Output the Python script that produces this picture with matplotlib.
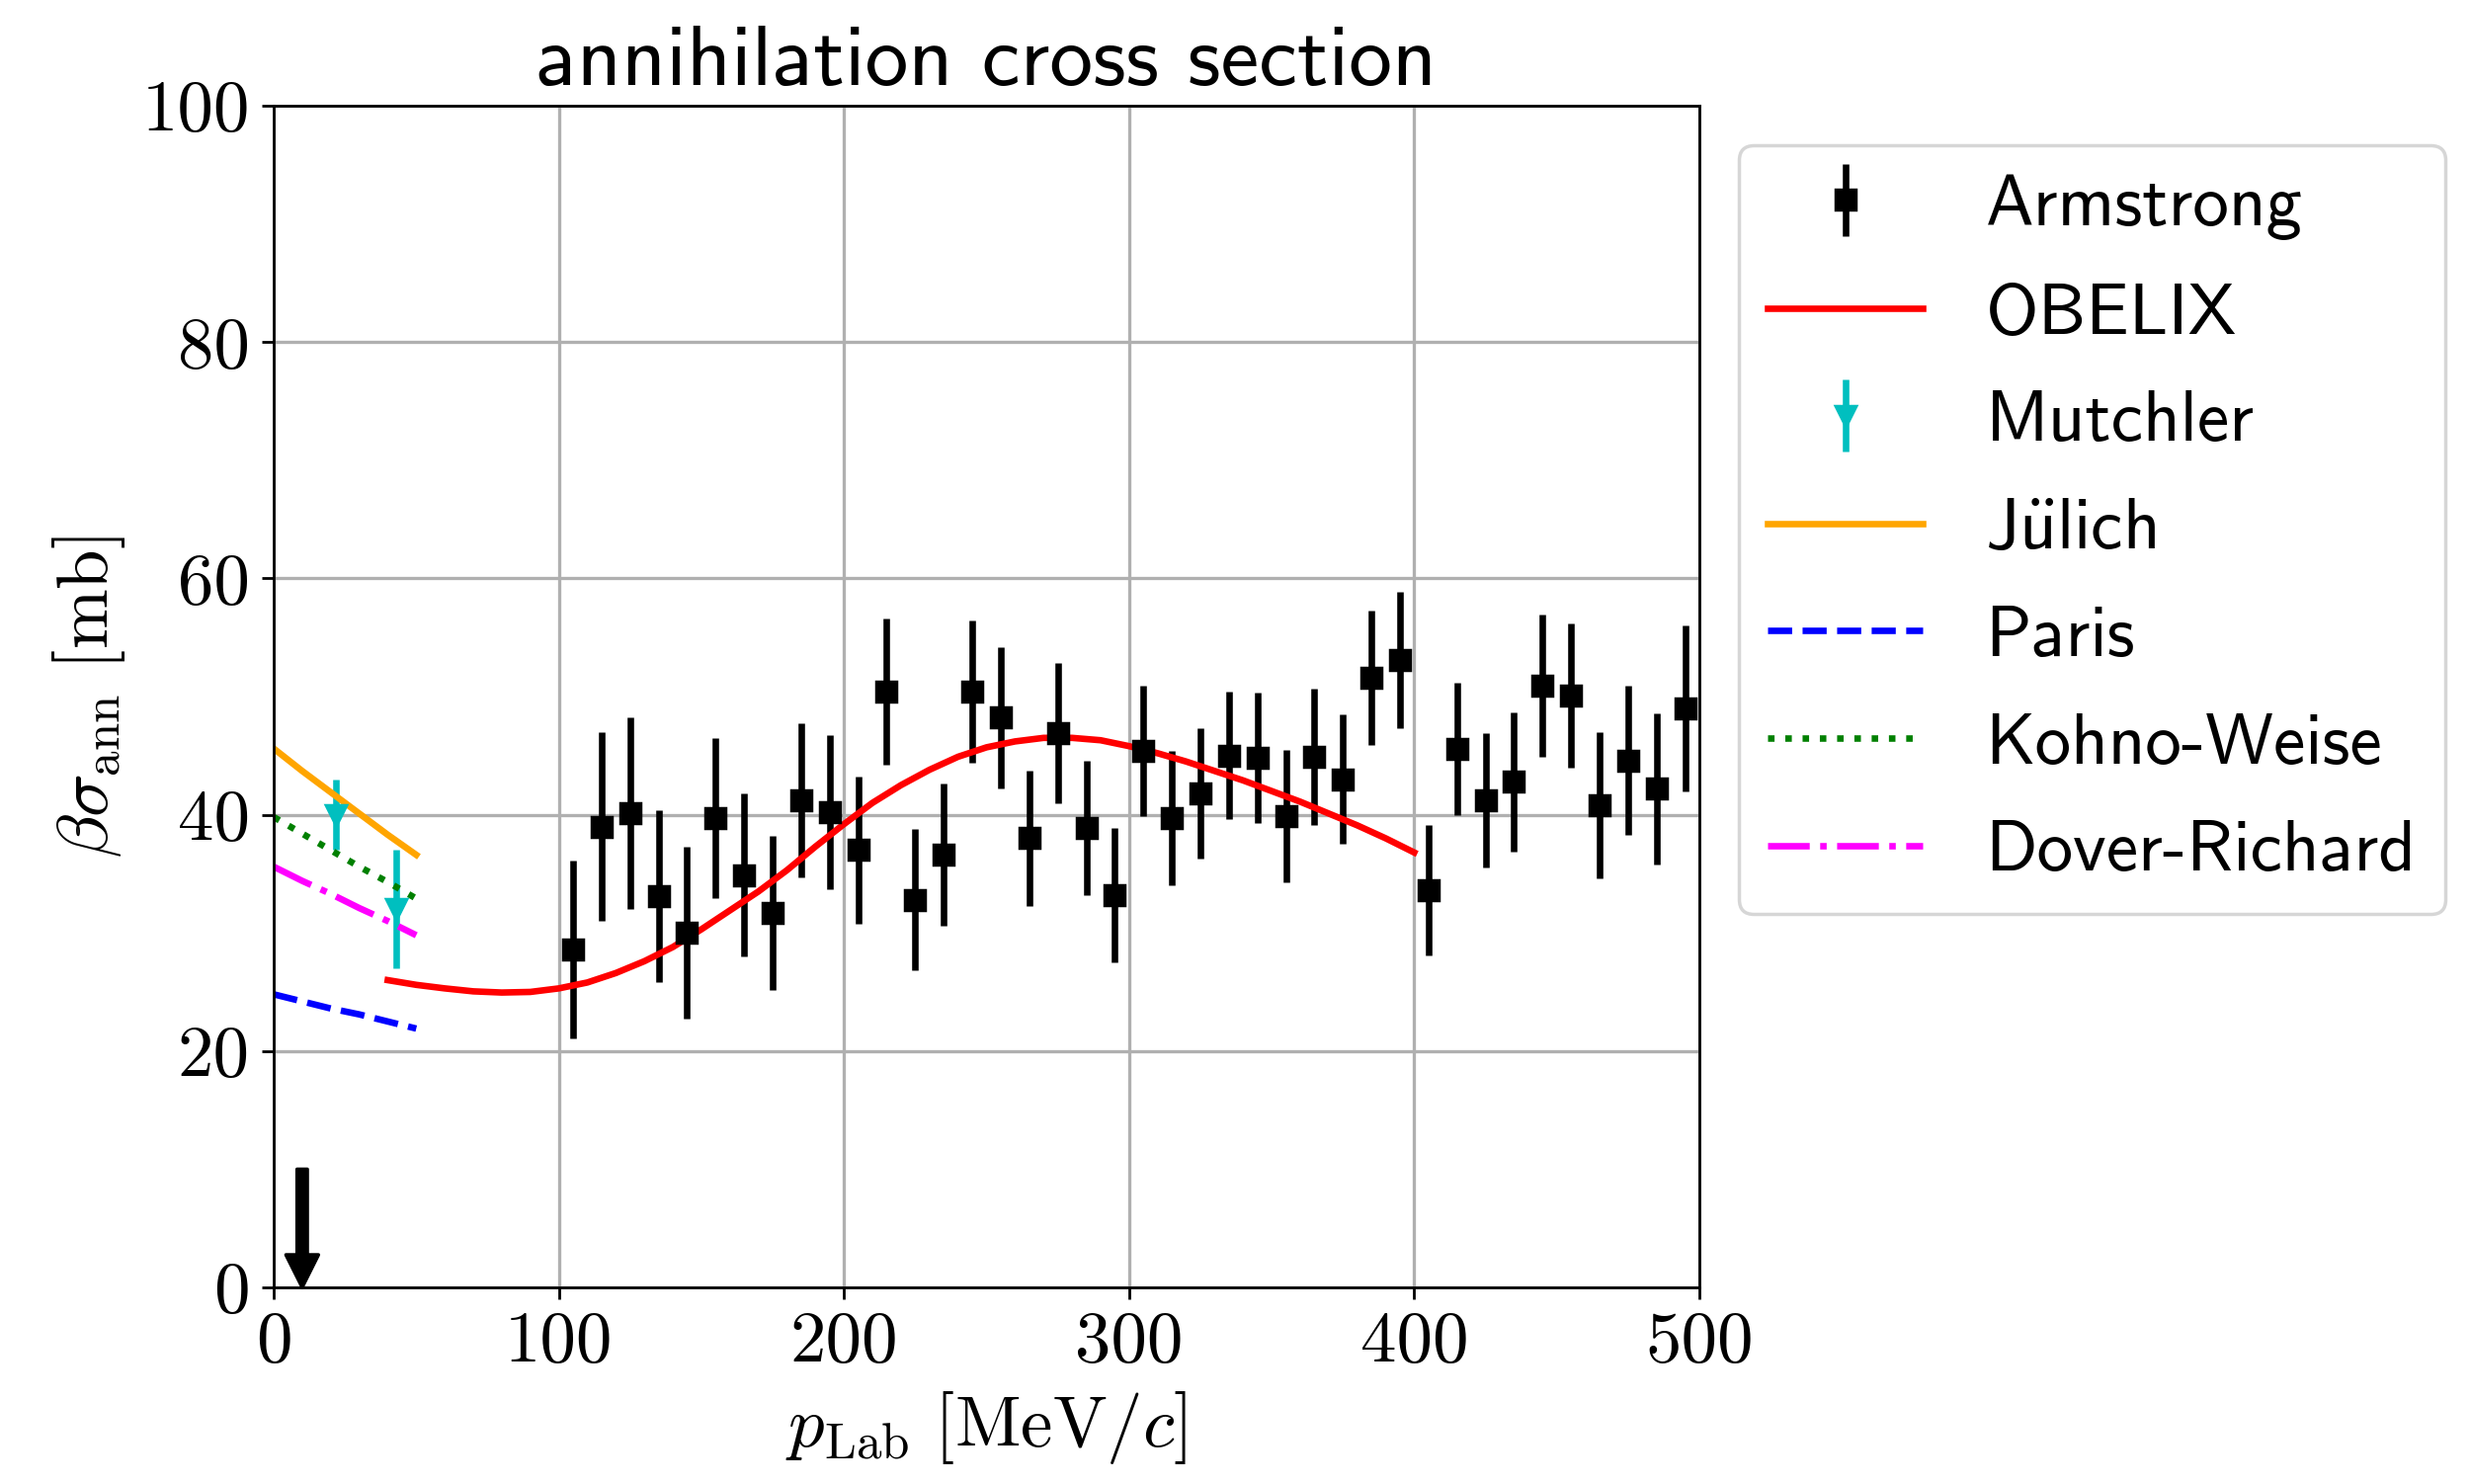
import numpy as np
import matplotlib
matplotlib.use('Agg')
import matplotlib.pyplot as plt

plt.rcParams['font.family'] = ['cmss10', 'DejaVu Sans']
plt.rcParams['mathtext.fontset'] = 'cm'
plt.rcParams['axes.unicode_minus'] = False
plt.rcParams['font.size'] = 21
plt.rcParams['lines.linewidth'] = 1.9
plt.rcParams['grid.linewidth'] = 0.95

# Armstrong data
p_arm = np.arange(105, 500, 10)
sig_arm = [28.6, 39.0, 40.1, 33.1, 30.0, 39.7, 34.9, 31.7, 41.2, 40.2,
           37.0, 50.4, 32.8, 36.6, 50.4, 48.2, 38.0, 46.9, 38.9, 33.2,
           45.4, 39.7, 41.8, 45.0, 44.8, 39.9, 44.9, 43.0, 51.6, 53.1,
           33.6, 45.6, 41.2, 42.8, 50.9, 50.1, 40.8, 44.6, 42.2, 49.0]
err_arm = [7.5, 8.0, 8.1, 7.3, 7.3, 6.8, 6.9, 6.5, 6.5, 6.5,
           6.2, 6.2, 6.0, 6.0, 6.0, 6.0, 5.7, 5.9, 5.7, 5.7,
           5.5, 5.7, 5.5, 5.4, 5.5, 5.6, 5.8, 5.5, 5.7, 5.8,
           5.5, 5.6, 5.7, 5.9, 6.0, 6.1, 6.2, 6.3, 6.4, 7.0]

# OBELIX fit
p_obx = np.arange(40, 401, 10)
sig_obx = [26.0, 25.6, 25.3, 25.05, 24.95, 25.0, 25.3, 25.8, 26.6, 27.6,
           28.8, 30.3, 31.9, 33.5, 35.3, 37.3, 39.2, 41.0, 42.5, 43.8,
           44.9, 45.7, 46.2, 46.5, 46.5, 46.3, 45.8, 45.2, 44.5, 43.7,
           42.9, 42.0, 41.1, 40.1, 39.1, 38.0, 36.8]

# Mutchler
p_mut = [22, 43]
sig_mut = [40.0, 32.0]
err_mut = [3.0, 5.0]

# potential models
p_mod = [0, 10, 20, 30, 40, 50]
sig_julich = [45.6, 43.7, 41.9, 40.1, 38.3, 36.6]
sig_paris = [24.8, 24.2, 23.6, 23.1, 22.5, 21.9]
sig_kw = [39.8, 38.4, 37.0, 35.6, 34.3, 32.9]
sig_dr = [35.6, 34.4, 33.3, 32.1, 31.0, 29.8]

fig = plt.figure(figsize=(10, 6.008), dpi=250)
ax = fig.add_axes([0.1108, 0.1325, 0.5772, 0.7963])

h_arm = ax.errorbar(p_arm, sig_arm, yerr=err_arm, fmt='ks', markersize=5.6, label='Armstrong')
h_obx, = ax.plot(p_obx, sig_obx, 'r-', label='OBELIX')
h_mut = ax.errorbar(p_mut, sig_mut, yerr=err_mut, fmt='cv', markersize=6, label='Mutchler')
h_jul, = ax.plot(p_mod, sig_julich, '-', color='orange', label=r'J$\mathsf{\ddot{u}}$lich')
h_par, = ax.plot(p_mod, sig_paris, '--', color='blue', label='Paris')
h_kw, = ax.plot(p_mod, sig_kw, ':', color='green', label='Kohno-Weise')
h_dr, = ax.plot(p_mod, sig_dr, '-.', color='magenta', label='Dover-Richard')

ax.annotate('', xy=(10, 0), xytext=(10, 10),
            arrowprops=dict(facecolor='black', edgecolor='black', width=3.0,
                            headwidth=9.5, headlength=9.5, shrink=0))

ax.set_xlim(0, 500)
ax.set_ylim(0, 100)
ax.set_xticks([0, 100, 200, 300, 400, 500])
ax.set_yticks([0, 20, 40, 60, 80, 100])
ax.tick_params(labelfontfamily='cmr10')
ax.grid(True)
ax.set_axisbelow(True)
ax.set_xlabel(r'$p_\mathrm{Lab}\ [\mathrm{MeV}/c]$')
ax.set_ylabel(r'$\beta\sigma_\mathrm{ann}\ [\mathrm{mb}]$')
ax.set_title('annihilation cross section')
handles = [h_arm, h_obx, h_mut, h_jul, h_par, h_kw, h_dr]
ax.legend(handles, [h.get_label() for h in handles],
          loc='upper left', bbox_to_anchor=(1, 1), borderaxespad=0.55,
          labelspacing=0.6, handlelength=2.15, handletextpad=0.87)

fig.savefig('out.png', dpi=250)
